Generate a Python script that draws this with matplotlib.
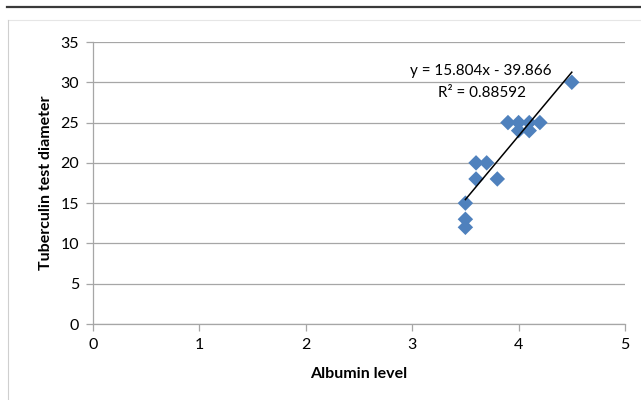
import numpy as np
import matplotlib.pyplot as plt
from matplotlib.lines import Line2D

# albumin level vs tuberculin test diameter
albumin = [4.5, 3.9, 4.0, 4.1, 4.2, 4.0, 4.1, 3.6, 3.7, 3.6, 3.8, 3.5, 3.5, 3.5]
tuberculin = [30, 25, 25, 25, 25, 24, 24, 20, 20, 18, 18, 15, 13, 12]

# trendline as printed on the chart
slope = 15.804
intercept = -39.866
r_squared = 0.88592

x_ticks = [0, 1, 2, 3, 4, 5]
y_ticks = [0, 5, 10, 15, 20, 25, 30, 35]

plt.rcParams['font.family'] = ['Lato', 'DejaVu Sans']

fig = plt.figure(figsize=(6.41, 4.0), dpi=100)
ax = fig.add_axes([93 / 641, 1 - 324 / 400, (625 - 93) / 641, (324 - 42) / 400])

# page decorations around the chart
fig.add_artist(Line2D([7 / 641, 1], [1 - 6.5 / 400] * 2, color='#3a3a3a', lw=1.6))
fig.add_artist(Line2D([8 / 641, 1], [1 - 19.5 / 400] * 2, color='#e6e6e6', lw=0.8))
fig.add_artist(Line2D([8 / 641, 8 / 641], [0, 1 - 19.5 / 400], color='#cfcfcf', lw=0.8))

ax.set_xlim(0, 5)
ax.set_ylim(0, 35)
ax.set_xticks(x_ticks)
ax.set_yticks(y_ticks)
ax.grid(axis='y', color='#a6a6a6', lw=0.9)
ax.set_axisbelow(True)

for side in ['top', 'right']:
    ax.spines[side].set_visible(False)
for side in ['left', 'bottom']:
    ax.spines[side].set_color('#a6a6a6')
    ax.spines[side].set_linewidth(0.9)
ax.tick_params(direction='out', length=5, width=0.9, color='#a6a6a6',
               labelsize=11.5, labelcolor='black')
ax.tick_params(axis='x', pad=5)
ax.tick_params(axis='y', pad=5)

ax.scatter(albumin, tuberculin, marker='D', s=62, color='#4f81bd',
           edgecolors='none', zorder=3)

xs = np.array([min(albumin), max(albumin)])
ax.plot(xs, slope * xs + intercept, color='black', lw=1.1, zorder=4)

ax.text(3.64, 31.4, f'y = {slope}x - {abs(intercept)}', ha='center', va='center',
        fontsize=11)
ax.text(3.66, 28.7, f'R² = {r_squared}', ha='center', va='center', fontsize=11)

ax.set_xlabel('Albumin level', fontsize=11.5, fontweight='bold', labelpad=11)
ax.set_ylabel('Tuberculin test diameter', fontsize=11.5, fontweight='bold',
              labelpad=5)

fig.savefig('out.png', dpi=100)
